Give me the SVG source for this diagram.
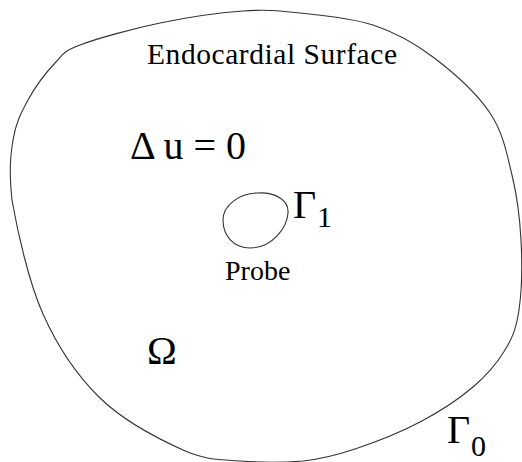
<svg xmlns="http://www.w3.org/2000/svg" width="522" height="462" viewBox="0 0 522 462">
<style>
.curve{fill:none;stroke:#333;stroke-width:1.1}
.t{font-family:'Liberation Serif','Times New Roman',Times,'DejaVu Serif','Noto Serif',serif;fill:#000}
</style>
<rect width="522" height="462" fill="#fff"/>
<g id="boundary">
<path class="curve" d="M80,45 C97.5,38.3 132.8,28.7 160,23 C187.2,17.3 219.7,12.7 243,11 C266.3,9.3 278.3,10.7 300,13 C321.7,15.3 350.8,17.7 373,25 C395.2,32.3 413.5,42.3 433,57 C452.5,71.7 476.8,93.3 490,113 C503.2,132.7 506.8,153.8 512,175 C517.2,196.2 519.8,217.5 521,240 C522.2,262.5 521.7,291.7 519,310 C516.3,328.3 512.7,337.2 505,350 C497.3,362.8 487.2,375 473,387 C458.8,399 439.7,411.7 420,422 C400.3,432.3 374.5,442.5 355,449 C335.5,455.5 322.2,459 303,461 C283,462.5 260,462.5 240,461 C220,459.2 206.3,460.5 183,450 C159.7,439.5 123.3,420.7 100,398 C76.7,375.3 57.7,347 43,314 C28.3,281 17,229 12,200 C9,171 10.3,156.7 13,140 C15.7,123.3 21,112.8 28,100 C35,87.2 46.3,72.2 55,63 C63.7,53.8 62.5,51.7 80,45 Z"/>
</g>
<g id="probe">
<path class="curve" d="M258,193 C275,192 289,200 288,213 C287,228 272,248 250,248 C233,248 223,235 223,220 C223,205 240,193 258,193 Z"/>
</g>
<g id="labels">
<text id="endocardial" class="t" x="147" y="63.5" font-size="29.5" textLength="250" lengthAdjust="spacing">Endocardial Surface</text>
<text id="laplace" class="t" x="130" y="159" font-size="40">Δ u = 0</text>
<g id="gamma1">
<text class="t" x="293" y="218" font-size="40">Γ</text>
<text class="t" x="317" y="227" font-size="30">1</text>
</g>
<text id="probe-label" class="t" x="225" y="280" font-size="28">Probe</text>
<text id="omega" class="t" x="147" y="364" font-size="40">Ω</text>
<g id="gamma0">
<text class="t" x="447" y="443" font-size="40">Γ</text>
<text class="t" x="471" y="456" font-size="30">0</text>
</g>
</g>
</svg>
